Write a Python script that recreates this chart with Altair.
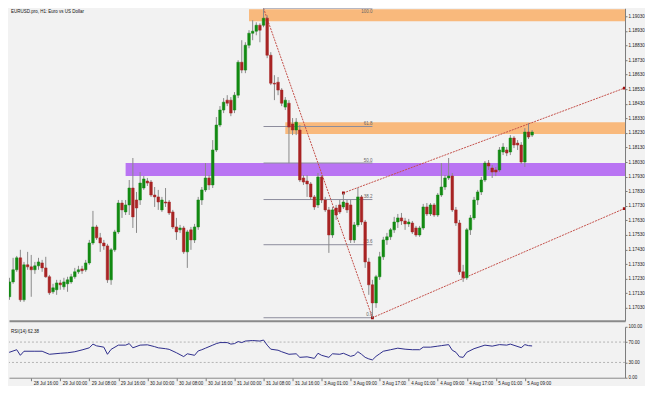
import altair as alt
import pandas as pd

# ---------------- data (EURUSD H1, bar 0 = 28 Jul 2020 08:00) ----------------
opens = [
    1.17359, 1.17270, 1.17106, 1.17208, 1.17291, 1.17373, 1.17085, 1.17325, 1.17311, 1.17291,
    1.17318, 1.17338, 1.17304, 1.17243, 1.17140, 1.17154, 1.17201, 1.17174, 1.17195, 1.17208,
    1.17243, 1.17277, 1.17297, 1.17291, 1.17338, 1.17475, 1.17585, 1.17510, 1.17475, 1.17455,
    1.17222, 1.17428, 1.17551, 1.17749, 1.17688, 1.17736, 1.17852, 1.17770, 1.17770, 1.17852,
    1.17900, 1.17893, 1.17804, 1.17791, 1.17702, 1.17756, 1.17756, 1.17688, 1.17585, 1.17565,
    1.17578, 1.17414, 1.17565, 1.17496, 1.17585, 1.17770, 1.17839, 1.17921, 1.17873, 1.18113,
    1.18284, 1.18387, 1.18455, 1.18455, 1.18387, 1.18489, 1.18715, 1.18661, 1.18832, 1.18914,
    1.18928, 1.18969, 1.18969, 1.19017, 1.18763, 1.18571, 1.18578, 1.18524, 1.18407, 1.18434,
    1.18291, 1.18250, 1.18250, 1.17921, 1.17900, 1.17880, 1.17791, 1.17736, 1.17928, 1.17770,
    1.17702, 1.17530, 1.17715, 1.17736, 1.17722, 1.17749, 1.17736, 1.17496, 1.17599, 1.17791,
    1.17619, 1.17345, 1.17188, 1.17064, 1.17243, 1.17380, 1.17496, 1.17517, 1.17565, 1.17619,
    1.17647, 1.17626, 1.17606, 1.17612, 1.17578, 1.17530, 1.17578, 1.17722, 1.17674, 1.17736,
    1.17667, 1.17804, 1.17859, 1.17921, 1.17934, 1.17702, 1.17612, 1.17277, 1.17236, 1.17565,
    1.17647, 1.17770, 1.17825, 1.17907, 1.18023, 1.17989, 1.17976, 1.17976, 1.18099, 1.18113,
    1.18099, 1.18195, 1.18160, 1.18147, 1.18030, 1.18236, 1.18215,
]
highs = [
    1.17393, 1.17291, 1.17236, 1.17373, 1.17386, 1.17428, 1.17345, 1.17414, 1.17393, 1.17345,
    1.17373, 1.17359, 1.17380, 1.17256, 1.17195, 1.17222, 1.17222, 1.17236, 1.17243, 1.17263,
    1.17304, 1.17318, 1.17318, 1.17359, 1.17496, 1.17695, 1.17599, 1.17544, 1.17496, 1.17469,
    1.17441, 1.17565, 1.17770, 1.17770, 1.17770, 1.17907, 1.18058, 1.17825, 1.17962, 1.17934,
    1.17921, 1.17907, 1.17859, 1.17839, 1.17791, 1.17852, 1.17770, 1.17702, 1.17647, 1.17599,
    1.17592, 1.17565, 1.17585, 1.17606, 1.17791, 1.17859, 1.18023, 1.17941, 1.18181, 1.18339,
    1.18414, 1.18469, 1.18489, 1.18476, 1.18510, 1.18729, 1.18866, 1.18852, 1.18935, 1.19003,
    1.18989, 1.18982, 1.19085, 1.19037, 1.18784, 1.18626, 1.18613, 1.18537, 1.18476, 1.18455,
    1.18332, 1.18332, 1.18284, 1.17941, 1.17941, 1.17893, 1.17804, 1.17955, 1.17941, 1.17791,
    1.17722, 1.17722, 1.17736, 1.17770, 1.17818, 1.17770, 1.17770, 1.17619, 1.17852, 1.17804,
    1.17633, 1.17373, 1.17222, 1.17256, 1.17414, 1.17517, 1.17544, 1.17578, 1.17654, 1.17674,
    1.17681, 1.17647, 1.17640, 1.17626, 1.17592, 1.17592, 1.17743, 1.17749, 1.17749, 1.17749,
    1.17818, 1.18023, 1.17941, 1.18058, 1.17955, 1.17722, 1.17633, 1.17325, 1.17578, 1.17667,
    1.17791, 1.17839, 1.17928, 1.18037, 1.18044, 1.18010, 1.17996, 1.18133, 1.18160, 1.18133,
    1.18215, 1.18208, 1.18181, 1.18167, 1.18263, 1.18297, 1.18250,
]
lows = [
    1.17236, 1.17085, 1.17085, 1.17195, 1.17277, 1.17071, 1.17071, 1.17291, 1.17106, 1.17263,
    1.17291, 1.17277, 1.17236, 1.17119, 1.17126, 1.17119, 1.17154, 1.17154, 1.17140, 1.17195,
    1.17229, 1.17263, 1.17263, 1.17277, 1.17325, 1.17462, 1.17496, 1.17414, 1.17428, 1.17201,
    1.17188, 1.17414, 1.17537, 1.17647, 1.17667, 1.17667, 1.17578, 1.17544, 1.17736, 1.17839,
    1.17866, 1.17791, 1.17722, 1.17702, 1.17688, 1.17722, 1.17667, 1.17571, 1.17496, 1.17544,
    1.17400, 1.17304, 1.17428, 1.17475, 1.17565, 1.17736, 1.17825, 1.17839, 1.17852, 1.18099,
    1.18270, 1.18366, 1.18414, 1.18345, 1.18366, 1.18469, 1.18640, 1.18640, 1.18811, 1.18866,
    1.18900, 1.18852, 1.18955, 1.18743, 1.18558, 1.18455, 1.18489, 1.18414, 1.18387, 1.18023,
    1.18215, 1.18215, 1.17893, 1.17873, 1.17791, 1.17770, 1.17702, 1.17715, 1.17749, 1.17688,
    1.17407, 1.17510, 1.17633, 1.17674, 1.17708, 1.17681, 1.17475, 1.17475, 1.17585, 1.17599,
    1.17304, 1.17119, 1.16962, 1.17030, 1.17222, 1.17359, 1.17462, 1.17496, 1.17544, 1.17578,
    1.17599, 1.17565, 1.17585, 1.17537, 1.17517, 1.17517, 1.17565, 1.17660, 1.17660, 1.17654,
    1.17654, 1.17791, 1.17839, 1.17907, 1.17688, 1.17592, 1.17256, 1.17208, 1.17222, 1.17530,
    1.17633, 1.17736, 1.17804, 1.17893, 1.17976, 1.17921, 1.17934, 1.17962, 1.18078, 1.18071,
    1.18078, 1.18126, 1.18113, 1.18017, 1.17996, 1.18188, 1.18202,
]
closes = [
    1.17270, 1.17106, 1.17208, 1.17291, 1.17373, 1.17085, 1.17325, 1.17311, 1.17291, 1.17318,
    1.17345, 1.17304, 1.17243, 1.17133, 1.17167, 1.17201, 1.17188, 1.17208, 1.17222, 1.17243,
    1.17277, 1.17291, 1.17284, 1.17338, 1.17475, 1.17585, 1.17510, 1.17475, 1.17455, 1.17222,
    1.17428, 1.17551, 1.17749, 1.17702, 1.17736, 1.17852, 1.17654, 1.17715, 1.17886, 1.17914,
    1.17886, 1.17804, 1.17791, 1.17756, 1.17770, 1.17749, 1.17681, 1.17585, 1.17551, 1.17578,
    1.17414, 1.17551, 1.17496, 1.17585, 1.17770, 1.17839, 1.17921, 1.17873, 1.18113, 1.18284,
    1.18387, 1.18441, 1.18434, 1.18366, 1.18489, 1.18715, 1.18661, 1.18832, 1.18914, 1.18928,
    1.18969, 1.18935, 1.19017, 1.18763, 1.18571, 1.18565, 1.18524, 1.18434, 1.18455, 1.18270,
    1.18250, 1.18304, 1.17907, 1.17893, 1.17880, 1.17791, 1.17722, 1.17928, 1.17770, 1.17702,
    1.17530, 1.17702, 1.17667, 1.17688, 1.17756, 1.17702, 1.17496, 1.17599, 1.17791, 1.17619,
    1.17345, 1.17188, 1.17064, 1.17243, 1.17380, 1.17496, 1.17517, 1.17565, 1.17619, 1.17647,
    1.17626, 1.17606, 1.17619, 1.17551, 1.17530, 1.17578, 1.17722, 1.17674, 1.17736, 1.17667,
    1.17804, 1.17859, 1.17921, 1.17934, 1.17702, 1.17612, 1.17277, 1.17236, 1.17565, 1.17647,
    1.17770, 1.17825, 1.17907, 1.18023, 1.18003, 1.17962, 1.17962, 1.18113, 1.18133, 1.18092,
    1.18195, 1.18147, 1.18147, 1.18030, 1.18236, 1.18202, 1.18236,
]

# RSI(14) (bar index, value)
rsi_idx = [0, 1, 2, 4, 5, 6, 9, 11, 13, 16, 18, 20, 22, 24, 25, 26, 28, 29, 30, 32,
           34, 35, 36, 38, 40, 42, 43, 45, 46, 48, 50, 51, 53, 54, 55, 56, 58, 59, 60, 62,
           63, 64, 65, 66, 67, 69, 71, 72, 73, 74, 76, 77, 79, 81, 82, 84, 86, 87, 88, 90,
           91, 93, 94, 96, 97, 98, 99, 100, 101, 102, 103, 104, 105, 107, 109, 111, 113, 115, 116, 118,
           120, 121, 123, 124, 125, 126, 127, 128, 130, 133, 135, 137, 139, 140, 143, 144, 145, 146]
rsi_val = [49, 44, 50, 55, 44, 52, 52, 52, 46, 48, 49, 51, 54.6, 58.7, 66, 62.6, 60, 46, 55.7, 64,
           64, 67, 58.7, 64, 64.6, 61, 58.7, 57, 55.7, 49, 41.5, 47, 44, 52.6, 55, 58, 64, 67, 69, 69,
           66, 67, 71, 69, 72, 73, 72, 74, 64, 56, 54, 51, 46, 47, 40, 41, 38, 48, 44, 40,
           47, 46, 48, 42, 44, 51, 46, 40, 37, 35, 42, 47, 52, 55, 58, 56, 55, 55, 60, 60,
           62, 63, 65, 54, 50, 41, 40, 50, 57, 64, 62, 65, 64, 66, 59, 65, 63, 62.38]

time_labels = ["28 Jul 2020", "28 Jul 16:00", "29 Jul 00:00", "29 Jul 08:00", "29 Jul 16:00",
               "30 Jul 00:00", "30 Jul 08:00", "30 Jul 16:00", "31 Jul 00:00", "31 Jul 08:00",
               "31 Jul 16:00", "3 Aug 01:00", "3 Aug 09:00", "3 Aug 17:00", "4 Aug 01:00",
               "4 Aug 09:00", "4 Aug 17:00", "5 Aug 01:00", "5 Aug 09:00"]
time_tick_bars = [8, 16, 24, 32, 40, 48, 56, 64, 72, 80, 88, 96, 104, 112, 120, 128, 136, 144]

price_ticks = [1.17030, 1.17130, 1.17230, 1.17330, 1.17430, 1.17530, 1.17630, 1.17730,
               1.17830, 1.17930, 1.18030, 1.18130, 1.18230, 1.18330, 1.18430, 1.18530,
               1.18630, 1.18730, 1.18830, 1.18930, 1.19030]
rsi_ticks = [0, 30, 70, 100]
rsi_levels = [30, 70]

fib_levels = [0.0, 23.6, 38.2, 50.0, 61.8, 100.0]
fib_from_bar = 72   # swing high bar
fib_to_bar = 102    # swing low bar

zone_names = ["supply high", "supply mid", "pivot"]
zone_left = [68, 78, 34]
zone_top = [1.19078, 1.18304, 1.18023]
zone_bottom = [1.18996, 1.18222, 1.17934]
zone_colors = ["#f9b97c", "#f9b97c", "#b974f3"]

trend_x0 = [94, 102]
trend_p0 = [1.17818, 1.16962]
trend_x1 = [171.4, 171.4]
trend_p1 = [1.18537, 1.17711]

title_text = "EURUSD.pro, H1: Euro vs US Dollar"
rsi_title = "RSI(14) 62.38"

# ---------------- tables ----------------
n = len(opens)
bars = pd.DataFrame({"i": list(range(n)), "open": opens, "high": highs,
                     "low": lows, "close": closes})
bars["dir"] = ["up" if c >= o else "down" for o, c in zip(opens, closes)]
bars["top"] = [max(o, c) for o, c in zip(opens, closes)]
bars["bot"] = [min(o, c) for o, c in zip(opens, closes)]

hi = highs[fib_from_bar]
lo = lows[fib_to_bar]
fib = pd.DataFrame({
    "level": fib_levels,
    "price": [lo + (hi - lo) * l / 100.0 for l in fib_levels],
    "label": [f"{l:.1f}" for l in fib_levels],
    "x0": fib_from_bar, "x1": fib_to_bar,
})
fib_diag = pd.DataFrame({"x0": [fib_from_bar], "x1": [fib_to_bar], "p0": [hi], "p1": [lo]})
zones = pd.DataFrame({"name": zone_names, "left": zone_left, "right": 200,
                      "top": zone_top, "bottom": zone_bottom, "color": zone_colors})
trends = pd.DataFrame({"x0": trend_x0, "p0": trend_p0, "x1": trend_x1, "p1": trend_p1})
trend_pts = pd.DataFrame({"x": trend_x0 + trend_x1, "p": trend_p0 + trend_p1})
rsi = pd.DataFrame({"i": rsi_idx, "rsi": rsi_val})
levels = pd.DataFrame({"level": rsi_levels})

# ---------------- scales / axes ----------------
W = 617
MAIN_H = 313
RSI_H = 51
xs = alt.Scale(domain=[1.87, 171.60], nice=False, zero=False, padding=0)
ys = alt.Scale(domain=[1.16941, 1.19085], nice=False, zero=False, padding=0)
FONT = "Liberation Sans"
FS = 4.5
AXC = "#7a7a7a"
LINE_RED = "#c4504a"

label_expr = "[" + ",".join(f"'{t}'" for t in time_labels) + "][round(datum.value/8)]"

price_axis = alt.Axis(orient="right", values=price_ticks, format=".5f", title=None,
                      grid=False, labelFontSize=FS, labelFont=FONT, labelColor="#222222",
                      tickSize=2, tickColor=AXC, domainColor=AXC, labelPadding=1,
                      labelFlush=False, labelOverlap=False)
main_x_axis = alt.Axis(orient="bottom", labels=False, ticks=False, title=None, grid=False,
                       domainColor="#8a8a8a", domainWidth=2)


def X(field):
    return alt.X(field, scale=xs, axis=main_x_axis, title=None)


def Y(field):
    return alt.Y(field, scale=ys, axis=price_axis, title=None)


zone_layer = alt.Chart(zones).mark_rect(clip=True).encode(
    x=X("left:Q"), x2="right:Q", y=Y("top:Q"), y2="bottom:Q",
    color=alt.Color("color:N", scale=None, legend=None),
)
fib_lines = alt.Chart(fib).mark_rule(color="#8d8d9d", strokeWidth=1, clip=True).encode(
    x=X("x0:Q"), x2="x1:Q", y=Y("price:Q"),
)
fib_text = alt.Chart(fib).transform_filter("datum.level < 100").mark_text(
    align="right", baseline="bottom", dy=-0.5, fontSize=FS, font=FONT, color="#666666"
).encode(x=X("x1:Q"), y=Y("price:Q"), text="label:N")
fib_text_top = alt.Chart(fib).transform_filter("datum.level >= 100").mark_text(
    align="right", baseline="top", dy=1, fontSize=FS, font=FONT, color="#666666"
).encode(x=X("x1:Q"), y=Y("price:Q"), text="label:N")
fib_line = alt.Chart(fib_diag).mark_rule(color=LINE_RED, strokeWidth=1, strokeDash=[2, 1],
                                         clip=True).encode(
    x=X("x0:Q"), x2="x1:Q", y=Y("p0:Q"), y2="p1:Q",
)
trend_lines = alt.Chart(trends).mark_rule(color=LINE_RED, strokeWidth=1, strokeDash=[2, 1],
                                          clip=True).encode(
    x=X("x0:Q"), x2="x1:Q", y=Y("p0:Q"), y2="p1:Q",
)
trend_marks = alt.Chart(trend_pts).mark_square(size=8, color="#a01010", opacity=1,
                                               clip=True).encode(
    x=X("x:Q"), y=Y("p:Q"),
)
wicks = alt.Chart(bars).mark_rule(color="#8a8a8a", strokeWidth=1, clip=True).encode(
    x=X("i:Q"), y=Y("low:Q"), y2="high:Q",
)
candle_scale = alt.Scale(domain=["up", "down"], range=["#128a12", "#a82424"])
bodies = alt.Chart(bars).mark_bar(size=2.6, clip=True, strokeWidth=0.5).encode(
    x=X("i:Q"), y=Y("bot:Q"), y2="top:Q",
    color=alt.Color("dir:N", scale=candle_scale, legend=None),
    stroke=alt.Stroke("dir:N", scale=candle_scale, legend=None),
)
title_mark = alt.Chart(pd.DataFrame({"t": [title_text]})).mark_text(
    align="left", baseline="top", fontSize=FS, font=FONT, color="#111111").encode(
    x=alt.value(2), y=alt.value(1), text="t:N")

main = alt.layer(zone_layer, fib_lines, fib_text, fib_text_top, fib_line, trend_lines,
                 trend_marks, wicks, bodies, title_mark).properties(width=W, height=MAIN_H)

# ---------------- RSI pane ----------------
rsi_y = alt.Scale(domain=[0, 100], nice=False, zero=False, padding=0)
rsi_axis_y = alt.Axis(orient="right", values=rsi_ticks, format=".2f", title=None, grid=False,
                      labelFontSize=FS, labelFont=FONT, labelColor="#222222", tickSize=2,
                      tickColor=AXC, domainColor=AXC, labelPadding=1, labelFlush=False,
                      labelOverlap=False)
rsi_axis_x = alt.Axis(orient="bottom", values=time_tick_bars, labelExpr=label_expr, title=None,
                      grid=False, labelFontSize=FS, labelFont=FONT, labelColor="#222222",
                      labelAlign="left", labelOffset=2, labelPadding=0, tickSize=3,
                      tickColor=AXC, domainColor="#8a8a8a", domainWidth=1,
                      labelFlush=False, labelOverlap=False)


def RX(field):
    return alt.X(field, scale=xs, axis=rsi_axis_x, title=None)


def RY(field):
    return alt.Y(field, scale=rsi_y, axis=rsi_axis_y, title=None)


rsi_lv = alt.Chart(levels).mark_rule(color="#b4b4b4", strokeWidth=1, strokeDash=[2, 2]).encode(
    y=RY("level:Q"),
)
rsi_line = alt.Chart(rsi).mark_line(color="#2d2d8c", strokeWidth=1, clip=True).encode(
    x=RX("i:Q"), y=RY("rsi:Q"),
)
rsi_label = alt.Chart(pd.DataFrame({"t": [rsi_title]})).mark_text(
    align="left", baseline="top", fontSize=FS, font=FONT, color="#111111").encode(
    x=alt.value(2), y=alt.value(2), text="t:N")

lower = alt.layer(rsi_lv, rsi_line, rsi_label).properties(width=W, height=RSI_H)

chart = alt.vconcat(main, lower, spacing=3).properties(
    padding=0, background="#f2f2f2"
).configure_view(stroke=None).configure_axis(labelFont=FONT)

chart.save("out.html", embed_options={"renderer": "svg", "actions": False})
